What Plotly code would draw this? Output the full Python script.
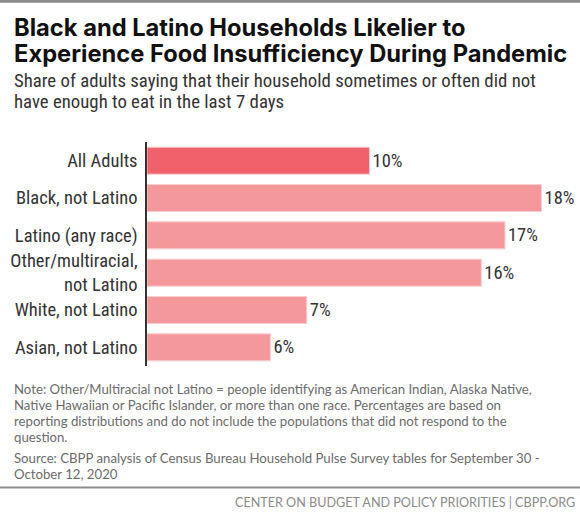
import plotly.graph_objects as go

# ---- data ----
categories = ["All Adults", "Black, not Latino", "Latino (any race)",
              "Other/multiracial,<br>not Latino", "White, not Latino", "Asian, not Latino"]
values = [10.35, 18.35, 16.65, 15.55, 7.43, 5.74]
value_labels = ["10%", "18%", "17%", "16%", "7%", "6%"]
bar_colors = ["#F1616B", "#F4989C", "#F4989C", "#F4989C", "#F4989C", "#F4989C"]

title_lines = ["Black and Latino Households Likelier to",
               "Experience Food Insufficiency During Pandemic"]
subtitle_lines = ["Share of adults saying that their household sometimes or often did not",
                  "have enough to eat in the last 7 days"]
note_lines = ["Note: Other/Multiracial not Latino = people identifying as American Indian, Alaska Native,",
              "Native Hawaiian or Pacific Islander, or more than one race. Percentages are based on",
              "reporting distributions and do not include the populations that did not respond to the",
              "question."]
source_lines = ["Source: CBPP analysis of Census Bureau Household Pulse Survey tables for September 30 -",
                "October 12, 2020"]
footer = "CENTER ON BUDGET AND POLICY PRIORITIES | CBPP.ORG"

# ---- layout geometry ----
W, H = 580, 521
L, R, T, B = 147, 3, 142, 155.4
PW, PH = W - L - R, H - T - B

def px(x):
    return (x - L) / PW

def py(y):
    return (H - B - y) / PH

COND = "Roboto Condensed, Roboto, sans-serif"
BODY = "Lato, Open Sans, sans-serif"

fig = go.Figure(go.Bar(
    x=values, y=categories, orientation="h",
    marker=dict(color=bar_colors, line=dict(color="#FAD0D2", width=1)),
    text=value_labels, textposition="outside",
    textfont=dict(family=COND, size=18.5, color="#333333"),
    cliponaxis=False, hoverinfo="skip",
))

ann = []
for i, t in enumerate(title_lines):
    ann.append(dict(text="<b>%s</b>" % t, x=px(12), y=py(28 + 25.5 * i),
                    font=dict(family="Inter, Lato, sans-serif", size=23.7, color="#111111")))
for i, t in enumerate(subtitle_lines):
    ann.append(dict(text=t, x=px(12), y=py(81.5 + 20.5 * i),
                    font=dict(family=COND, size=18.8, color="#333333")))
for i, t in enumerate(note_lines):
    ann.append(dict(text=t, x=px(12), y=py(388.5 + 16 * i),
                    font=dict(family=BODY, size=13.2, color="#6b6b6b")))
for i, t in enumerate(source_lines):
    ann.append(dict(text=t, x=px(12), y=py(457.5 + 16 * i),
                    font=dict(family=BODY, size=13.2, color="#6b6b6b")))
for a in ann:
    a.update(xref="paper", yref="paper", xanchor="left", yanchor="middle",
             showarrow=False, align="left")
ann.append(dict(text=footer, x=px(577), y=py(502), xref="paper", yref="paper",
                xanchor="right", yanchor="middle", showarrow=False,
                font=dict(family=BODY, size=12.6, color="#8a8a8a")))

shapes = [
    dict(type="rect", xref="paper", yref="paper", x0=px(-2), x1=px(582), y0=py(-3), y1=py(3),
         line=dict(width=0), fillcolor="#8c8c8c", layer="above"),
    dict(type="line", xref="paper", yref="paper", x0=px(0), x1=px(580), y0=py(487), y1=py(487),
         line=dict(color="#8c8c8c", width=2)),
]

fig.update_layout(
    width=W, height=H,
    margin=dict(l=L, r=R, t=T, b=B, pad=0, autoexpand=False),
    paper_bgcolor="white", plot_bgcolor="white",
    bargap=0.275, showlegend=False,
    annotations=ann, shapes=shapes,
    xaxis=dict(range=[0, 20], visible=False, fixedrange=True, automargin=False),
    yaxis=dict(autorange="reversed", showline=True, linecolor="#333333", linewidth=1.5,
               ticks="", showgrid=False, zeroline=False, ticklabelstandoff=4,
               automargin=False,
               tickfont=dict(family=COND, size=18.5, color="#333333"), fixedrange=True),
)

fig.write_html("out.html", config={"displayModeBar": False},
               post_script="document.body.style.margin='0';")
